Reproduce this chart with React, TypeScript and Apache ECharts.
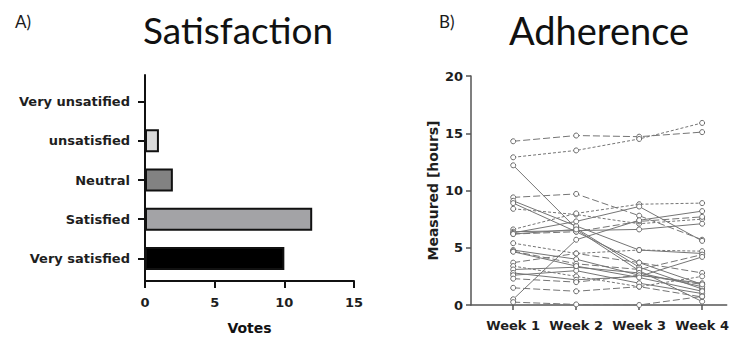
import React, { useEffect, useRef } from "react";
import * as echarts from "echarts";

// ---- Panel A data ----
const satisfactionCategories = ["Very satisfied", "Satisfied", "Neutral", "unsatisfied", "Very unsatified"];
const satisfactionVotes = [10, 12, 2, 1, 0];
const votesTicks = [0, 5, 10, 15];

// ---- Panel B data ----
const weekLabels = ["Week 1", "Week 2", "Week 3", "Week 4"];
const weekPositions = [1, 2, 3, 4];
const hoursTicks = [0, 5, 10, 15, 20];
const participantHours: number[][] = [
  [14.3, 14.8, 14.7, 15.1],
  [12.9, 13.5, 14.5, 15.9],
  [12.2, 6.7, 3.3, 1.4],
  [9.4, 9.7, 7.8, 5.7],
  [9.1, 6.9, 4.8, 4.5],
  [8.9, 6.4, 3.7, 1.8],
  [8.4, 7.9, 7.1, 7.5],
  [6.6, 8.0, 8.8, 8.9],
  [6.4, 6.5, 6.6, 7.1],
  [6.3, 7.3, 8.6, 5.6],
  [6.2, 6.4, 7.3, 7.7],
  [6.2, 6.6, 3.0, 0.3],
  [5.4, 4.5, 4.8, 4.7],
  [4.8, 4.0, 2.6, 1.9],
  [4.7, 3.6, 3.1, 4.4],
  [3.7, 4.5, 3.7, 2.8],
  [3.4, 2.5, 1.6, 2.5],
  [3.1, 3.3, 2.8, 1.6],
  [2.8, 2.2, 2.5, 4.2],
  [2.6, 3.0, 1.9, 1.0],
  [2.3, 2.0, 2.6, 1.8],
  [1.5, 1.2, 1.6, 0.7],
  [0.5, 5.7, 7.4, 8.2],
  [0.25, 0.05, 0.0, 0.75],
  [4.65, 3.4, 2.4, 1.2],
];
const participantStyles = [
  "dashed", "dotted", "solid", "dashed", "solid", "solid", "dotted", "dotted", "solid",
  "solid", "dashed", "solid", "dotted", "solid", "dashed", "dashed", "dotted", "solid",
  "solid", "solid", "dashed", "dashed", "solid", "dashed", "solid",
];

const barColors = ["#000000", "#a3a3a6", "#828282", "#dadada", "#ffffff"];

const boldFont = "DejaVu Sans";
const titleFont = "Lato";

export default function App() {
  const ref = useRef<HTMLDivElement>(null);

  useEffect(() => {
    if (!ref.current) return;
    const chart = echarts.init(ref.current, null, { renderer: "svg" });

    const dashFor = (s: string): any =>
      s === "dashed" ? [7, 3] : s === "dotted" ? [3, 2] : "solid";

    const lineSeries = participantHours.map((vals, i) => ({
      type: "line",
      xAxisIndex: 2,
      yAxisIndex: 2,
      data: vals.map((v, j) => [weekPositions[j], v]),
      symbol: "circle",
      symbolSize: 5,
      lineStyle: { color: "#757575", width: 1, type: dashFor(participantStyles[i]) },
      itemStyle: { color: "#ffffff", borderColor: "#6a6a6a", borderWidth: 1 },
      z: 2,
    }));

    const tickText = { fontFamily: boldFont, fontWeight: "bold", fontSize: 13, color: "#1e1e1e" };

    const option: any = {
      animation: false,
      backgroundColor: "#ffffff",
      title: [
        { text: "A)", left: 10, top: 8, textStyle: { fontFamily: titleFont, fontSize: 17, fontWeight: "normal", color: "#1a1a1a" } },
        { text: "Satisfaction", left: 138, top: 6, textStyle: { fontFamily: titleFont, fontSize: 37, fontWeight: "normal", color: "#111" } },
        { text: "B)", left: 434, top: 8, textStyle: { fontFamily: titleFont, fontSize: 17, fontWeight: "normal", color: "#1a1a1a" } },
        { text: "Adherence", left: 504, top: 6, textStyle: { fontFamily: titleFont, fontSize: 38, fontWeight: "normal", color: "#111" } },
      ],
      grid: [
        // outer frame of panel A (axis lines)
        { left: 145, width: 209, top: 75, height: 210, containLabel: false },
        // inner plotting area of panel A (bars)
        { left: 145, width: 209, top: 82, height: 196, containLabel: false },
        // panel B
        { left: 471, right: 0, top: 76, bottom: 35, containLabel: false },
      ],
      xAxis: [
        {
          type: "value",
          gridIndex: 0,
          min: 0,
          max: 15,
          interval: 5,
          name: "Votes",
          nameLocation: "middle",
          nameGap: 40,
          nameTextStyle: { fontFamily: boldFont, fontWeight: "bold", fontSize: 14, color: "#111" },
          axisLine: { show: true, onZero: false, lineStyle: { color: "#111", width: 2 } },
          axisTick: { show: true, length: 7, lineStyle: { color: "#111", width: 2 } },
          axisLabel: {
            margin: 15,
            ...tickText,
            formatter: (v: number) => (votesTicks.includes(v) ? String(v) : ""),
          },
          splitLine: { show: false },
        },
        {
          type: "value",
          gridIndex: 1,
          min: 0,
          max: 15,
          show: false,
        },
        {
          type: "value",
          gridIndex: 2,
          min: 0.33,
          max: 4.39,
          axisLine: { show: true, onZero: false, lineStyle: { color: "#555", width: 1.5 } },
          axisTick: { show: true, length: 5, customValues: weekPositions, lineStyle: { color: "#555", width: 1.5 } },
          axisLabel: {
            customValues: weekPositions,
            margin: 14,
            ...tickText,
            formatter: (v: number) => weekLabels[Math.round(v) - 1] ?? "",
          },
          splitLine: { show: false },
        },
      ],
      yAxis: [
        {
          type: "value",
          gridIndex: 0,
          min: 0,
          max: 1,
          axisLine: { show: true, onZero: false, lineStyle: { color: "#111", width: 2 } },
          axisTick: { show: false },
          axisLabel: { show: false },
          splitLine: { show: false },
        },
        {
          type: "category",
          gridIndex: 1,
          data: satisfactionCategories,
          axisLine: { show: false },
          axisTick: { show: true, alignWithLabel: true, length: 7, lineStyle: { color: "#111", width: 2 } },
          axisLabel: { margin: 15, ...tickText },
        },
        {
          type: "value",
          gridIndex: 2,
          min: 0,
          max: 20,
          interval: 5,
          name: "Measured [hours]",
          nameLocation: "middle",
          nameGap: 31,
          nameRotate: 90,
          nameTextStyle: { fontFamily: boldFont, fontWeight: "bold", fontSize: 14, color: "#1e1e1e" },
          axisLine: { show: true, lineStyle: { color: "#555", width: 1.5 } },
          axisTick: { show: true, length: 5, lineStyle: { color: "#555", width: 1.5 } },
          axisLabel: {
            margin: 8,
            ...tickText,
            formatter: (v: number) => (hoursTicks.includes(v) ? String(v) : ""),
          },
          splitLine: { show: false },
        },
      ],
      series: [
        {
          type: "bar",
          xAxisIndex: 1,
          yAxisIndex: 1,
          barWidth: 23,
          data: satisfactionVotes.map((v, i) => ({
            value: v,
            itemStyle: {
              color: barColors[i],
              borderColor: "#111",
              borderWidth: v > 0 ? 2 : 0,
            },
          })),
        },
        ...lineSeries,
      ],
    };

    chart.setOption(option);
    return () => chart.dispose();
  }, []);

  return <div ref={ref} style={{ width: 732, height: 340, position: "absolute", left: 0, top: 0 }} />;
}
